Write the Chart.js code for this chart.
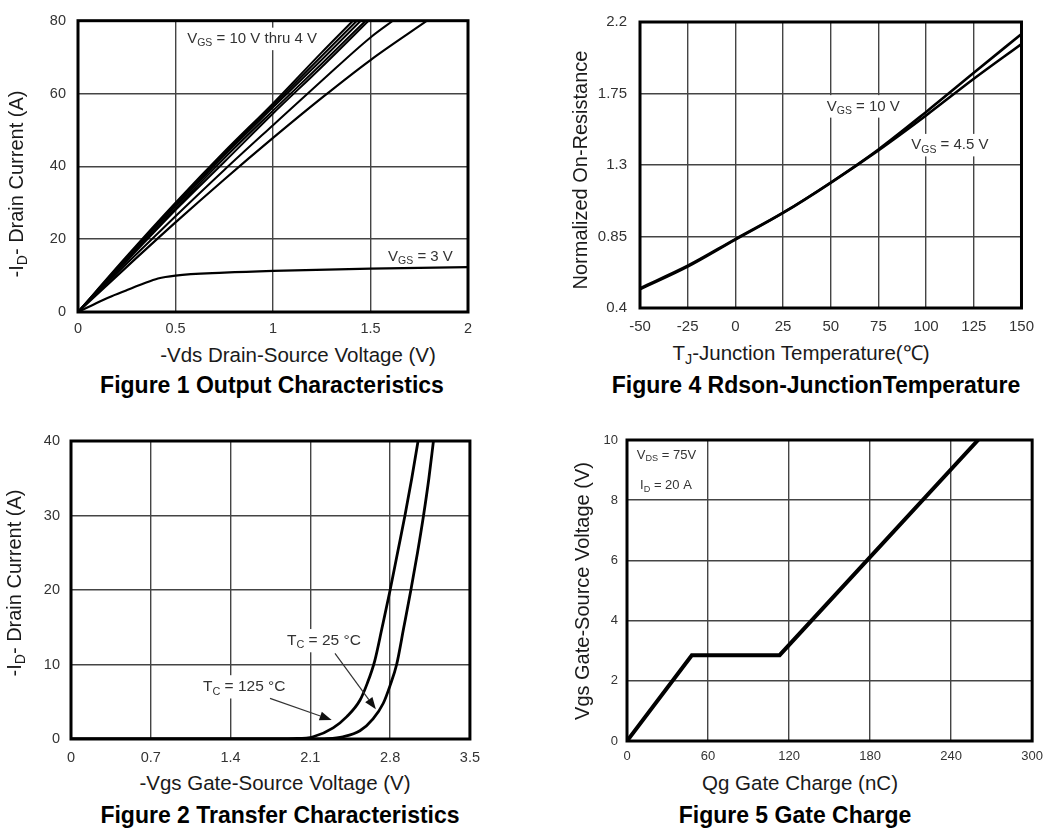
<!DOCTYPE html>
<html>
<head>
<meta charset="utf-8">
<script src="https://cdn.jsdelivr.net/npm/chart.js@4/dist/chart.umd.min.js"></script>
<style>
body { margin:0; background:#fff; width:1051px; height:834px; position:relative; overflow:hidden; font-family:"Liberation Sans", Arial, sans-serif; }
canvas { position:absolute; }
.t { position:absolute; white-space:nowrap; transform:translate(-50%,-50%); color:#1a1a1a; font-size:20.5px; line-height:1; }
.yt { transform:translate(-50%,-50%) rotate(-90deg); font-size:20px; }
.cap { font-weight:bold; font-size:23px; color:#000; }
sub { font-size:70%; vertical-align:baseline; position:relative; top:0.3em; }
</style>
</head>
<body>
<canvas id="c1" width="490" height="340" style="left:0;top:0"></canvas>
<canvas id="c4" width="454" height="340" style="left:590px;top:0"></canvas>
<canvas id="c2" width="490" height="350" style="left:0;top:420px"></canvas>
<canvas id="c5" width="471" height="350" style="left:580px;top:420px"></canvas>

<div class="t" style="left:298px;top:355px">-Vds Drain-Source Voltage (V)</div>
<div class="t yt" style="left:16px;top:184px">-I<sub>D</sub>- Drain Current (A)</div>
<div class="t cap" style="left:272px;top:385px">Figure 1 Output Characteristics</div>

<div class="t" style="left:801px;top:353px">T<sub>J</sub>-Junction Temperature(℃)</div>
<div class="t yt" style="left:580px;top:170px">Normalized On-Resistance</div>
<div class="t cap" style="left:816px;top:385px">Figure 4 Rdson-JunctionTemperature</div>

<div class="t" style="left:275px;top:783px">-Vgs Gate-Source Voltage (V)</div>
<div class="t yt" style="left:14px;top:583px">-I<sub>D</sub>- Drain Current (A)</div>
<div class="t cap" style="left:280px;top:815px">Figure 2 Transfer Characteristics</div>

<div class="t" style="left:800px;top:783px">Qg Gate Charge (nC)</div>
<div class="t yt" style="left:582px;top:591px">Vgs Gate-Source Voltage (V)</div>
<div class="t cap" style="left:795px;top:815px">Figure 5 Gate Charge</div>

<script>
// ---- Figure 1 output characteristics: -Vds (V) vs -Id (A)
const vds10 = [0, 0.25, 0.5, 0.75, 1, 1.25, 1.41]
const id10  = [0, 15.3, 30, 44, 57.3, 71.3, 80]
const vds9  = [0, 0.25, 0.5, 0.75, 1, 1.25, 1.43]
const id9   = [0, 15, 29.5, 43.5, 56.8, 70.3, 80]
const vds8  = [0, 0.25, 0.5, 0.75, 1, 1.25, 1.45]
const id8   = [0, 14.7, 29, 43, 56.2, 69.3, 80]
const vds7  = [0, 0.25, 0.5, 0.75, 1, 1.25, 1.475]
const id7   = [0, 14.3, 28.4, 42.2, 55.3, 68.2, 80]
const vds6  = [0, 0.25, 0.5, 0.75, 1, 1.25, 1.49]
const id6   = [0, 14, 28, 41.2, 54.5, 67.3, 80]
const vds5  = [0, 0.25, 0.5, 0.75, 1, 1.25, 1.5, 1.615]
const id5   = [0, 13.3, 26.3, 39, 51.3, 63.5, 75.4, 80]
const vds4  = [0, 0.25, 0.5, 0.75, 1, 1.25, 1.5, 1.79]
const id4   = [0, 12.4, 24.6, 36.4, 47.8, 58.8, 69.2, 80]
const vds3  = [0, 0.07, 0.157, 0.25, 0.327, 0.41, 0.5, 0.75, 1, 1.5, 2]
const id3   = [0, 1.8, 4, 6, 7.6, 9.2, 10, 10.8, 11.3, 11.9, 12.3]
const fig1XTicks = [0, 0.5, 1, 1.5, 2]
const fig1YTicks = [0, 20, 40, 60, 80]

// ---- Figure 4 Rdson vs junction temperature
const tj = [-50, -25, 0, 25, 50, 75, 100, 125, 150]
const rds10 = [0.525, 0.666, 0.834, 1.0, 1.19, 1.398, 1.634, 1.88, 2.125]
const rds45 = [0.518, 0.66, 0.83, 0.998, 1.188, 1.392, 1.612, 1.843, 2.062]
const fig4XTicks = [-50, -25, 0, 25, 50, 75, 100, 125, 150]
const fig4YTicks = [0.4, 0.85, 1.3, 1.75, 2.2]

// ---- Figure 2 transfer characteristics
const vgs125 = [0, 1.7, 1.95, 2.125, 2.3, 2.42, 2.535, 2.6, 2.665, 2.73, 2.8, 2.865, 2.93, 2.99, 3.045]
const id125  = [0, 0, 0.05, 0.3, 1.5, 3.0, 5.2, 7.5, 10.5, 15, 20, 25, 30, 35, 40]
const vgs25  = [0, 2.1, 2.25, 2.386, 2.535, 2.65, 2.74, 2.8, 2.857, 2.92, 2.982, 3.04, 3.093, 3.14, 3.18]
const id25   = [0, 0, 0.05, 0.3, 1.1, 2.7, 4.8, 7.2, 10, 15, 20, 25, 30, 35, 40]
const fig2XTicks = [0, 0.7, 1.4, 2.1, 2.8, 3.5]
const fig2YTicks = [0, 10, 20, 30, 40]

// ---- Figure 5 gate charge
const qg = [0, 48, 113, 260]
const vgsQ = [0, 2.85, 2.85, 10]
const fig5XTicks = [0, 60, 120, 180, 240, 300]
const fig5YTicks = [0, 2, 4, 6, 8, 10]

const FONT = '"Liberation Sans", Arial, sans-serif'
Chart.defaults.font.family = FONT

function pts(xs, ys) {
    return xs.map((x, i) => ({x: x, y: ys[i]}))
}

function drawParts(ctx, x, y, parts, size) {
    let w = 0
    for (const p of parts) {
        ctx.font = (p[1] ? size * 0.7 : size) + 'px ' + FONT
        w += ctx.measureText(p[0]).width
    }
    ctx.fillStyle = '#fff'
    ctx.fillRect(x - 3, y - size * 0.75, w + 6, size * 1.5)
    ctx.fillStyle = '#333'
    ctx.textBaseline = 'middle'
    ctx.textAlign = 'left'
    let cx = x
    for (const p of parts) {
        ctx.font = (p[1] ? size * 0.7 : size) + 'px ' + FONT
        ctx.fillText(p[0], cx, p[1] ? y + size * 0.3 : y)
        cx += ctx.measureText(p[0]).width
    }
}

function drawArrow(ctx, x1, y1, x2, y2) {
    const a = Math.atan2(y2 - y1, x2 - x1)
    const L = 12, W = 4.5
    const bx = x2 - L * Math.cos(a), by = y2 - L * Math.sin(a)
    ctx.strokeStyle = '#333'
    ctx.lineWidth = 1.2
    ctx.beginPath()
    ctx.moveTo(x1, y1)
    ctx.lineTo(bx, by)
    ctx.stroke()
    ctx.fillStyle = '#111'
    ctx.beginPath()
    ctx.moveTo(x2, y2)
    ctx.lineTo(bx + W * Math.sin(a), by - W * Math.cos(a))
    ctx.lineTo(bx - W * Math.sin(a), by + W * Math.cos(a))
    ctx.closePath()
    ctx.fill()
}

// labels, arrows and the heavy plot frame
const notes = {
    id: 'notes',
    beforeDatasetsDraw(chart, args, opts) {
        const ctx = chart.ctx, xs = chart.scales.x, ys = chart.scales.y
        ctx.save()
        for (const lb of (opts.labels || [])) {
            drawParts(ctx, xs.getPixelForValue(lb.x), ys.getPixelForValue(lb.y), lb.parts, opts.size)
        }
        ctx.restore()
    },
    afterDatasetsDraw(chart, args, opts) {
        const ctx = chart.ctx, xs = chart.scales.x, ys = chart.scales.y
        ctx.save()
        for (const ar of (opts.arrows || [])) {
            drawArrow(ctx, xs.getPixelForValue(ar.from[0]), ys.getPixelForValue(ar.from[1]),
                xs.getPixelForValue(ar.to[0]), ys.getPixelForValue(ar.to[1]))
        }
        const a = chart.chartArea
        ctx.strokeStyle = '#000'
        ctx.lineWidth = opts.frame || 3
        ctx.strokeRect(a.left, a.top, a.right - a.left, a.bottom - a.top)
        ctx.restore()
    }
}

function axis(min, max, ticks, size, pad, fit) {
    return {
        type: 'linear', min: min, max: max,
        afterBuildTicks: s => { s.ticks = ticks.map(v => ({value: v})) },
        afterFit: fit,
        grid: {color: '#444', lineWidth: 1.4, drawTicks: false},
        border: {display: false},
        ticks: {padding: pad, color: '#333', font: {size: size}, maxRotation: 0, autoSkip: false,
            callback: v => String(v)}
    }
}

function makeChart(id, c) {
    return new Chart(document.getElementById(id), {
        type: 'line',
        data: {datasets: c.datasets},
        options: {
            responsive: false, animation: false, devicePixelRatio: 1,
            layout: {padding: c.pad},
            elements: {point: {radius: 0}},
            plugins: {legend: {display: false}, tooltip: {enabled: false}, notes: c.notes},
            scales: {
                x: axis(c.x[0], c.x[1], c.xTicks, c.fs, c.xPad, s => { s.height = c.xh }),
                y: axis(c.y[0], c.y[1], c.yTicks, c.fs, c.yPad, s => { s.width = c.yw })
            }
        },
        plugins: [notes]
    })
}

function curve(data, w) {
    return {data: data, borderColor: '#000', borderWidth: w, cubicInterpolationMode: 'monotone', fill: false}
}

makeChart('c1', {
    datasets: [
        curve(pts(vds10, id10), 2), curve(pts(vds9, id9), 2), curve(pts(vds8, id8), 2),
        curve(pts(vds7, id7), 2), curve(pts(vds6, id6), 2), curve(pts(vds5, id5), 2),
        curve(pts(vds4, id4), 2.2), curve(pts(vds3, id3), 2.2)
    ],
    x: [0, 2], y: [0, 80], xTicks: fig1XTicks, yTicks: fig1YTicks,
    fs: 14.5, xPad: 8, yPad: 12, xh: 28, yw: 78,
    pad: {top: 13, right: 22, left: 0, bottom: 0},
    notes: {size: 15, labels: [
        {x: 0.56, y: 75, parts: [['V', 0], ['GS', 1], [' = 10 V thru 4 V', 0]]},
        {x: 1.59, y: 15.2, parts: [['V', 0], ['GS', 1], [' = 3 V', 0]]}
    ]}
})

makeChart('c4', {
    datasets: [curve(pts(tj, rds10), 2.6), curve(pts(tj, rds45), 2.6)],
    x: [-50, 150], y: [0.4, 2.2], xTicks: fig4XTicks, yTicks: fig4YTicks,
    fs: 15, xPad: 10, yPad: 13, xh: 32, yw: 50,
    pad: {top: 13, right: 20, left: 0, bottom: 0},
    notes: {size: 15, labels: [
        {x: 47.9, y: 1.669, parts: [['V', 0], ['GS', 1], [' = 10 V', 0]]},
        {x: 92.2, y: 1.425, parts: [['V', 0], ['GS', 1], [' = 4.5 V', 0]]}
    ]}
})

makeChart('c2', {
    datasets: [curve(pts(vgs125, id125), 2.8), curve(pts(vgs25, id25), 2.8)],
    x: [0, 3.5], y: [0, 40], xTicks: fig2XTicks, yTicks: fig2YTicks,
    fs: 14.5, xPad: 10, yPad: 11, xh: 31, yw: 71,
    pad: {top: 21, right: 20, left: 0, bottom: 0},
    notes: {size: 15.5, labels: [
        {x: 1.895, y: 13.2, parts: [['T', 0], ['C', 1], [' = 25 °C', 0]]},
        {x: 1.158, y: 7.0, parts: [['T', 0], ['C', 1], [' = 125 °C', 0]]}
    ], arrows: [
        {from: [2.316, 11.5], to: [2.675, 3.99]},
        {from: [1.746, 5.46], to: [2.287, 2.55]}
    ]}
})

makeChart('c5', {
    datasets: [{data: pts(qg, vgsQ), borderColor: '#000', borderWidth: 4, tension: 0, fill: false}],
    x: [0, 300], y: [0, 10], xTicks: fig5XTicks, yTicks: fig5YTicks,
    fs: 13, xPad: 8, yPad: 9, xh: 29, yw: 47,
    pad: {top: 20, right: 14, left: 0, bottom: 0},
    notes: {size: 13, labels: [
        {x: 7.3, y: 9.5, parts: [['V', 0], ['DS', 1], [' = 75V', 0]]},
        {x: 9.7, y: 8.5, parts: [['I', 0], ['D', 1], [' = 20 A', 0]]}
    ]}
})
</script>
</body>
</html>
